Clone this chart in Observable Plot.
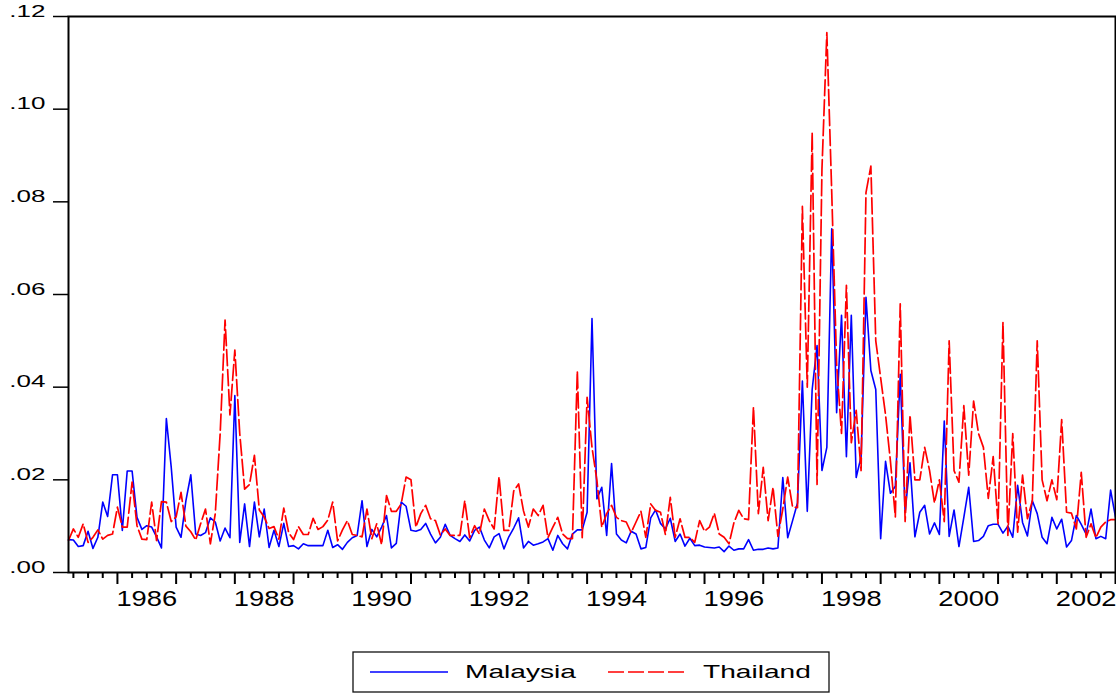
<!DOCTYPE html>
<html><head><meta charset="utf-8">
<script src="https://cdn.jsdelivr.net/npm/d3@7"></script>
<script src="https://cdn.jsdelivr.net/npm/@observablehq/plot@0.6"></script>
<style>
body{margin:0;background:#fff;font-family:"Liberation Sans",Arial,sans-serif;}
#chart{position:relative;width:1116px;height:693px;overflow:hidden;}
#legend{position:absolute;left:352px;top:651px;}
</style></head><body><div id="chart"><div id="plot"></div><div id="legend"></div></div>
<script>
// monthly observations, first = March 1985
const startYear = 1985, startMonth = 3;
const malaysia = [
0.0071,0.0070,0.0056,0.0058,0.0089,0.0052,0.0076,0.0152,0.0121,0.0211,
0.0211,0.0091,0.0219,0.0219,0.0119,0.0093,0.0101,0.0098,0.0077,0.0053,
0.0332,0.0227,0.0098,0.0076,0.0155,0.0211,0.0083,0.0080,0.0086,0.0118,
0.0109,0.0068,0.0096,0.0075,0.0382,0.0065,0.0148,0.0056,0.0152,0.0077,
0.0137,0.0054,0.0091,0.0056,0.0106,0.0056,0.0058,0.0051,0.0062,0.0058,
0.0058,0.0058,0.0058,0.0091,0.0054,0.0060,0.0050,0.0065,0.0075,0.0080,
0.0155,0.0056,0.0093,0.0077,0.0098,0.0123,0.0053,0.0063,0.0152,0.0143,
0.0091,0.0089,0.0093,0.0106,0.0083,0.0064,0.0076,0.0104,0.0080,0.0073,
0.0067,0.0081,0.0068,0.0091,0.0098,0.0070,0.0053,0.0077,0.0084,0.0051,
0.0077,0.0096,0.0118,0.0053,0.0067,0.0059,0.0062,0.0066,0.0073,0.0048,
0.0080,0.0062,0.0051,0.0083,0.0092,0.0092,0.0130,0.0548,0.0159,0.0184,
0.0080,0.0235,0.0083,0.0070,0.0064,0.0089,0.0083,0.0051,0.0054,0.0118,
0.0135,0.0106,0.0094,0.0117,0.0067,0.0083,0.0057,0.0074,0.0058,0.0059,
0.0055,0.0054,0.0053,0.0055,0.0045,0.0057,0.0048,0.0051,0.0051,0.0071,
0.0048,0.0050,0.0050,0.0053,0.0051,0.0053,0.0205,0.0075,0.0112,0.0150,
0.0413,0.0132,0.0395,0.0490,0.0220,0.0270,0.0742,0.0345,0.0555,0.0250,
0.0555,0.0205,0.0250,0.0594,0.0436,0.0395,0.0073,0.0240,0.0171,0.0186,
0.0428,0.0130,0.0237,0.0077,0.0130,0.0145,0.0083,0.0107,0.0082,0.0327,
0.0078,0.0135,0.0056,0.0119,0.0184,0.0067,0.0069,0.0078,0.0101,0.0104,
0.0104,0.0085,0.0100,0.0076,0.0188,0.0108,0.0079,0.0155,0.0127,0.0076,
0.0062,0.0119,0.0094,0.0115,0.0055,0.0069,0.0123,0.0104,0.0083,0.0137,
0.0073,0.0078,0.0073,0.0178,0.0119
];
const thailand = [
0.0069,0.0094,0.0076,0.0105,0.0065,0.0076,0.0092,0.0072,0.0080,0.0083,
0.0141,0.0098,0.0098,0.0195,0.0101,0.0072,0.0071,0.0152,0.0069,0.0153,
0.0152,0.0110,0.0120,0.0173,0.0100,0.0088,0.0070,0.0105,0.0137,0.0062,
0.0127,0.0300,0.0545,0.0340,0.0480,0.0300,0.0180,0.0190,0.0253,0.0135,
0.0120,0.0095,0.0099,0.0072,0.0139,0.0086,0.0071,0.0099,0.0082,0.0082,
0.0117,0.0093,0.0099,0.0113,0.0152,0.0068,0.0092,0.0112,0.0082,0.0080,
0.0077,0.0137,0.0073,0.0105,0.0060,0.0166,0.0132,0.0132,0.0148,0.0206,
0.0200,0.0098,0.0127,0.0145,0.0116,0.0112,0.0081,0.0094,0.0080,0.0080,
0.0080,0.0155,0.0075,0.0101,0.0083,0.0137,0.0112,0.0094,0.0207,0.0091,
0.0091,0.0176,0.0191,0.0133,0.0098,0.0137,0.0123,0.0145,0.0075,0.0098,
0.0119,0.0083,0.0073,0.0073,0.0435,0.0075,0.0378,0.0270,0.0199,0.0098,
0.0127,0.0145,0.0119,0.0112,0.0109,0.0086,0.0109,0.0132,0.0076,0.0148,
0.0134,0.0130,0.0082,0.0162,0.0076,0.0116,0.0076,0.0076,0.0065,0.0112,
0.0089,0.0098,0.0128,0.0083,0.0076,0.0062,0.0107,0.0134,0.0116,0.0114,
0.0357,0.0127,0.0227,0.0112,0.0184,0.0078,0.0137,0.0206,0.0141,0.0140,
0.0790,0.0400,0.0950,0.0190,0.0870,0.1165,0.0820,0.0450,0.0300,0.0620,
0.0280,0.0350,0.0220,0.0820,0.0877,0.0500,0.0420,0.0340,0.0240,0.0120,
0.0580,0.0110,0.0340,0.0200,0.0200,0.0270,0.0220,0.0150,0.0200,0.0110,
0.0500,0.0220,0.0195,0.0360,0.0210,0.0370,0.0300,0.0270,0.0160,0.0250,
0.0105,0.0540,0.0080,0.0300,0.0087,0.0210,0.0116,0.0155,0.0500,0.0200,
0.0155,0.0200,0.0157,0.0330,0.0130,0.0128,0.0094,0.0216,0.0076,0.0105,
0.0075,0.0098,0.0109,0.0114,0.0114
];
const yTicks = [0, 0.02, 0.04, 0.06, 0.08, 0.10, 0.12];
const yearTicks = [1986,1987,1988,1989,1990,1991,1992,1993,1994,1995,1996,1997,1998,1999,2000,2001,2002,2003];
const labelYears = [1986,1988,1990,1992,1994,1996,1998,2000,2002];
const seriesNames = ["Malaysia", "Thailand"];
const seriesColors = ["#0000ff", "#ff0000"];

const tOf = i => startYear + (startMonth - 1 + i) / 12;
const quarterTicks = [];
for (let y = 1985; y <= 2002; y++) for (const q of [0.25, 0.5, 0.75]) {
  const v = y + q; if (v > tOf(0)) quarterTicks.push(v);
}
const rowsM = malaysia.map((v, i) => ({t: tOf(i), v}));
const rowsT = thailand.map((v, i) => ({t: tOf(i), v}));

const chart = Plot.plot({
  width: 1116, height: 640,
  marginLeft: 68, marginRight: 1, marginTop: 16, marginBottom: 68,
  style: {fontFamily: "Liberation Sans, Arial, sans-serif", background: "white", overflow: "visible", color: "black"},
  x: {domain: [tOf(0), tOf(malaysia.length - 1)], axis: null, label: null},
  y: {domain: [0, 0.12], axis: null, label: null},
  marks: [
    Plot.axisY({ticks: yTicks, tickSize: 15, tickPadding: 8, strokeWidth: 1.5, label: null,
      tickFormat: d => d3.format(".2f")(d).replace(/^0/, ""), fontSize: 16.8}),
    Plot.axisX({ticks: quarterTicks, tickSize: 6, strokeWidth: 2, tickFormat: () => "", label: null}),
    Plot.axisX({ticks: yearTicks, tickSize: 12, strokeWidth: 2, tickFormat: () => "", label: null}),
    Plot.axisX({ticks: labelYears.map(y => y + 0.5), tickSize: 0, tickPadding: 33, label: null,
      tickFormat: d => String(Math.floor(d)), fontSize: 21.5}),
    Plot.lineY(rowsM, {x: "t", y: "v", stroke: seriesColors[0], strokeWidth: 1.6}),
    Plot.lineY(rowsT, {x: "t", y: "v", stroke: seriesColors[1], strokeWidth: 1.7, strokeDasharray: "16,4"}),
    Plot.frame({stroke: "black", strokeWidth: 2})
  ]
});
document.getElementById("plot").appendChild(chart);

function stretch(el, sx) {
  const x = +el.getAttribute("x") || 0, y = +el.getAttribute("y") || 0;
  el.removeAttribute("x"); el.removeAttribute("y");
  const t = el.getAttribute("transform") || "";
  el.setAttribute("transform", `${t} translate(${x},${y}) scale(${sx},1)`);
}
chart.querySelectorAll("text").forEach(el => {
  const s = el.textContent.trim();
  if (!s) return;
  if (s.startsWith(".")) stretch(el, 1.55);
  else if (/^\d{4}$/.test(s)) stretch(el, 1.27);
});

// legend
const lg = d3.select("#legend").append("svg").attr("width", 480).attr("height", 42);
lg.append("rect").attr("x", 1).attr("y", 1).attr("width", 476).attr("height", 40)
  .attr("fill", "white").attr("stroke", "#111").attr("stroke-width", 1.3);
const items = [{x0: 18, x1: 96, tx: 113, dash: null}, {x0: 256, x1: 335, tx: 351, dash: "16,4"}];
items.forEach((it, k) => {
  lg.append("line").attr("x1", it.x0).attr("x2", it.x1).attr("y1", 21).attr("y2", 21)
    .attr("stroke", seriesColors[k]).attr("stroke-width", 1.3).attr("stroke-dasharray", it.dash);
  lg.append("text").attr("transform", `translate(${it.tx},27) scale(1.48,1)`)
    .attr("font-size", 19).attr("font-family", "Liberation Sans, Arial, sans-serif")
    .attr("fill", "black").text(seriesNames[k]);
});
</script></body></html>
